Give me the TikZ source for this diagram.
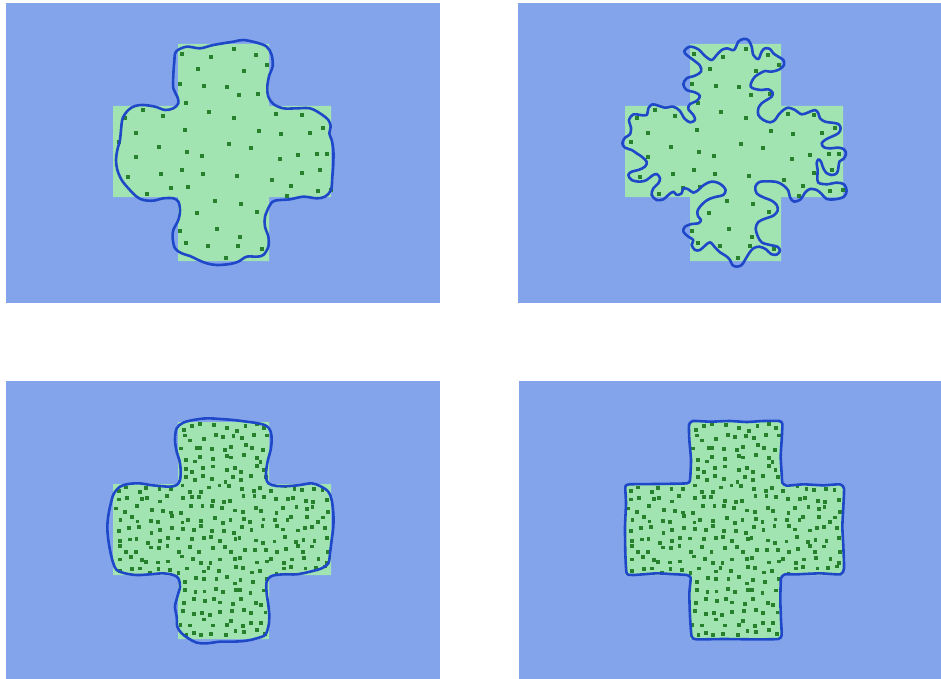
\documentclass[tikz,border=0pt]{standalone}
\definecolor{bgblue}{RGB}{131,164,235}
\definecolor{crossgreen}{RGB}{161,228,178}
\definecolor{dotgreen}{RGB}{38,128,44}
\definecolor{curveblue}{RGB}{30,72,200}
\tikzset{
  panel/.style={fill=bgblue},
  crossfill/.style={fill=crossgreen},
  dotmark/.style={fill=dotgreen},
  boundary/.style={draw=curveblue, line width=2.6pt, line join=round},
}
\def\sparsedots{546/161,633/170,702/146,767/165,801/195,593/206,733/213,539/251,613/258,681/261,717/285,773/283,559/308,627/337,701/353,828/342,905/344,430/330,489/347,374/353,408/398,555/391,776/394,842/403,930/398,970/383,358/425,476/441,688/432,753/445,408/470,561/455,606/468,839/477,893/464,950/462,981/463,383/531,483/522,545/509,608/522,710/529,816/541,907/520,959/511,442/581,512/565,564/561,873/558,860/587,954/572,992/569,645/604,722/612,591/639,771/635,539/692,650/687,720/712,557/728,625/739,713/739,787/748,677/773}
\newcommand\densedot[2]{\pgfmathsetmacro\ddx{#1+3.6*rand}\pgfmathsetmacro\ddy{#2+3.6*rand}\fill[dotmark] (\ddx-1.9,\ddy-1.9) rectangle ++(3.8,3.8);}
\newcommand\densedots{%
  \pgfmathsetseed{4242}%
  \foreach \i in {0,...,20}{\foreach \j in {0,...,8}{\densedot{113+(\i+0.5)*10.381}{106+(\j+0.5)*10.111}}}%
  \foreach \i in {0,...,8}{\foreach \j in {0,...,5}{\densedot{178+(\i+0.5)*10.111}{44+(\j+0.5)*10.333}}}%
  \foreach \i in {0,...,8}{\foreach \j in {0,...,5}{\densedot{178+(\i+0.5)*10.111}{197+(\j+0.5)*10.667}}}%
}
\begin{document}
\begin{tikzpicture}[x=1pt,y=-1pt]
\useasboundingbox (0,0) rectangle (941,679);
\fill[white] (0,0) rectangle (941,679);
% panels
\fill[panel] (6,3) rectangle (440,303);
\fill[panel] (518,3) rectangle (941,303);
\fill[panel] (6,381) rectangle (440,679);
\fill[panel] (519,381) rectangle (941,679);
% crosses
\foreach \dx/\dy in {0/0,512/0,0/378,512/378}{
  \begin{scope}[shift={(\dx,\dy)}]
    \fill[crossfill] (178,44) -- (269,44) -- (269,106) -- (331,106) -- (331,197) -- (269,197) -- (269,261) -- (178,261) -- (178,197) -- (113,197) -- (113,106) -- (178,106) -- cycle;
  \end{scope}}
% sparse dots (top panels)
\foreach \sx in {0,512}{
  \begin{scope}[shift={(\sx,0)},scale=0.33333]
    \foreach \x/\y in \sparsedots {\fill[dotmark] (\x-5.7,\y-5.7) rectangle ++(11.4,11.4);}
  \end{scope}}
% dense dots (bottom panels)
\begin{scope}[shift={(0,378)}]\densedots\end{scope}
\begin{scope}[shift={(512,378)}]\densedots\end{scope}
% boundary panel 1
\begin{scope}[scale=0.33333]
\draw[boundary] plot[smooth cycle, tension=0.55] coordinates {
(528,155)(560,140)(600,145)(640,135)(700,125)(730,120)(770,128)(800,140)(815,165)(818,200)(808,225)(802,260)(805,290)(820,312)(850,325)(890,325)(930,325)(960,340)(985,360)(992,380)(988,400)(995,420)(1000,450)(1000,490)(997,530)(993,570)(975,590)(950,595)(910,590)(870,598)(825,602)(810,615)(795,650)(795,680)(805,710)(805,740)(790,765)(770,770)(740,770)(715,785)(690,792)(650,795)(620,790)(595,780)(570,768)(545,760)(525,745)(518,715)(520,690)(535,660)(540,630)(535,605)(520,595)(490,595)(460,602)(430,600)(410,590)(385,565)(365,540)(352,510)(348,480)(352,450)(360,420)(363,390)(368,355)(385,330)(405,318)(430,315)(465,320)(495,330)(520,325)(535,310)(532,290)(520,265)(520,225)(523,185)};
\end{scope}
% boundary panel 2
\begin{scope}[shift={(470,0)},scale=0.33333]
\draw[boundary] plot[smooth cycle, tension=0.55] coordinates {
(643,153)(660,140)(685,148)(705,168)(725,180)(740,165)(755,150)(772,145)(792,150)(805,125)(820,117)(835,120)(845,140)(850,165)(865,177)(875,155)(885,145)(900,147)(910,160)(925,170)(940,180)(942,195)(930,207)(915,213)(900,215)(885,213)(870,220)(855,230)(845,245)(842,260)(855,267)(875,270)(895,268)(908,278)(905,290)(890,300)(875,310)(865,325)(865,345)(880,360)(900,367)(915,360)(925,345)(940,330)(955,323)(975,330)(995,343)(1015,337)(1035,330)(1045,340)(1050,355)(1065,365)(1085,368)(1105,372)(1112,385)(1105,400)(1085,410)(1068,418)(1055,430)(1062,442)(1080,445)(1105,443)(1122,448)(1128,462)(1120,477)(1108,485)(1105,505)(1100,520)(1085,525)(1068,518)(1058,500)(1053,485)(1045,478)(1040,490)(1043,510)(1042,530)(1045,548)(1070,553)(1100,548)(1122,553)(1130,572)(1122,590)(1095,598)(1070,597)(1055,582)(1040,570)(1020,567)(1005,578)(992,598)(972,605)(960,592)(955,572)(940,556)(920,546)(890,544)(868,546)(856,560)(860,580)(880,592)(905,602)(920,615)(923,632)(910,647)(885,656)(865,666)(857,685)(863,708)(875,727)(900,735)(922,740)(930,752)(920,764)(903,762)(888,748)(868,740)(850,745)(837,760)(825,780)(815,795)(800,800)(787,795)(780,780)(768,768)(750,757)(735,742)(720,727)(705,737)(690,750)(675,750)(665,735)(670,720)(655,710)(640,695)(645,680)(665,672)(685,670)(693,660)(685,650)(682,635)(690,620)(705,605)(720,596)(740,590)(760,585)(767,570)(755,555)(740,547)(725,545)(710,550)(695,560)(685,570)(670,578)(655,568)(640,565)(635,580)(620,585)(610,575)(595,585)(580,598)(560,600)(545,585)(550,565)(565,550)(570,535)(560,522)(545,528)(530,540)(510,545)(485,540)(475,525)(485,515)(505,510)(525,500)(530,485)(515,470)(500,460)(485,450)(465,443)(457,430)(465,413)(480,403)(483,383)(477,360)(490,343)(510,345)(530,345)(535,325)(547,313)(565,317)(585,323)(610,320)(630,333)(643,355)(660,367)(675,360)(670,345)(655,327)(660,312)(680,303)(690,288)(675,277)(650,270)(640,253)(650,235)(675,227)(693,215)(690,197)(670,180)(650,165)};
\end{scope}
% boundary panel 3
\begin{scope}[shift={(0,340)},scale=0.33333]
\draw[boundary] plot[smooth cycle, tension=0.55] coordinates {
(530,265)(550,248)(580,240)(620,235)(660,237)(700,240)(740,245)(775,250)(800,258)(812,275)(815,300)(812,330)(805,355)(800,380)(798,410)(805,430)(830,438)(870,438)(900,435)(935,430)(960,438)(985,455)(995,480)(1000,520)(1000,560)(995,600)(990,640)(985,670)(965,685)(930,695)(890,703)(850,703)(815,708)(800,725)(800,760)(805,795)(808,830)(805,860)(795,885)(770,895)(740,902)(700,905)(660,905)(620,910)(590,908)(565,895)(545,880)(532,860)(530,830)(525,800)(532,770)(540,740)(535,715)(520,705)(490,700)(450,703)(410,705)(375,700)(350,690)(340,670)(332,640)(325,600)(322,560)(326,520)(335,480)(342,460)(360,440)(385,432)(420,430)(450,435)(480,438)(510,440)(530,435)(540,420)(542,390)(538,360)(530,335)(525,300)};
\end{scope}
% boundary panel 4
\begin{scope}[shift={(470,340)},scale=0.33333]
\draw[boundary] plot[smooth cycle, tension=0.3] coordinates {
(668,243)(720,245)(780,243)(830,246)(880,243)(928,243)(937,252)(935,300)(932,350)(935,400)(937,428)(950,437)(1000,433)(1060,436)(1110,433)(1122,445)(1120,500)(1117,560)(1120,620)(1122,685)(1112,703)(1050,700)(980,703)(945,703)(933,715)(931,780)(933,840)(935,885)(925,897)(850,898)(760,897)(680,898)(665,890)(660,830)(658,760)(662,713)(650,705)(600,702)(560,700)(490,705)(470,700)(466,640)(465,560)(468,490)(466,440)(478,433)(560,432)(650,430)(660,420)(663,360)(658,300)(657,255)};
\end{scope}
\end{tikzpicture}
\end{document}
